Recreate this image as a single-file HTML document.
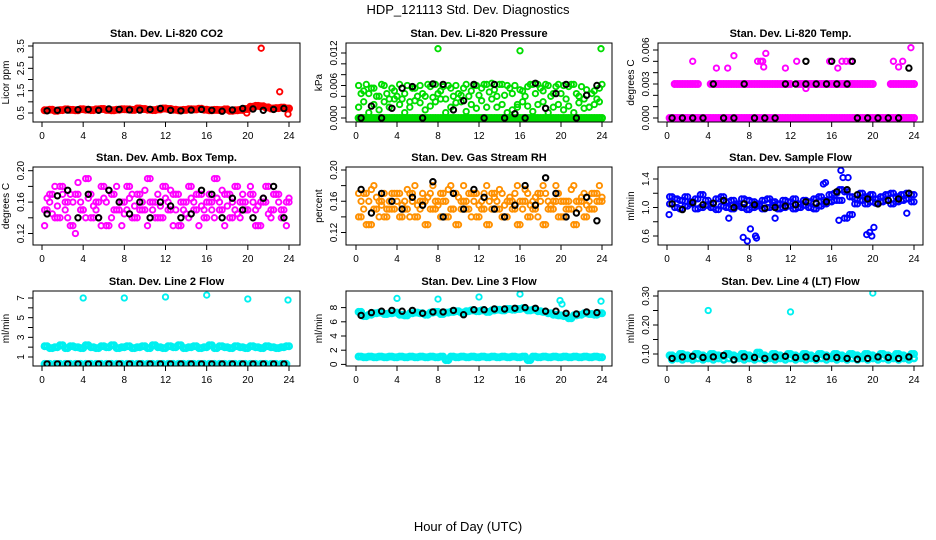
<!DOCTYPE html>
<html><head><meta charset="utf-8"><style>
body{margin:0;background:#fff;}
svg{display:block;font-family:"Liberation Sans",Arial,sans-serif;}
</style></head><body>
<svg id="chart" width="936" height="540" viewBox="0 0 936 540">
<text x="468" y="14" text-anchor="middle" font-size="13">HDP_121113  Std. Dev. Diagnostics</text>
<text x="468" y="531" text-anchor="middle" font-size="13">Hour of Day (UTC)</text>
</svg>
<script>
// ---- data ----
const H48 = [0.25,0.75,1.25,1.75,2.25,2.75,3.25,3.75,4.25,4.75,5.25,5.75,6.25,6.75,7.25,7.75,8.25,8.75,9.25,9.75,10.25,10.75,11.25,11.75,12.25,12.75,13.25,13.75,14.25,14.75,15.25,15.75,16.25,16.75,17.25,17.75,18.25,18.75,19.25,19.75,20.25,20.75,21.25,21.75,22.25,22.75,23.25,23.75];
const H48B = [0.5,1.0,1.5,2.0,2.5,3.0,3.5,4.0,4.5,5.0,5.5,6.0,6.5,7.0,7.5,8.0,8.5,9.0,9.5,10.0,10.5,11.0,11.5,12.0,12.5,13.0,13.5,14.0,14.5,15.0,15.5,16.0,16.5,17.0,17.5,18.0,18.5,19.0,19.5,20.0,20.5,21.0,21.5,22.0,22.5,23.0,23.5,24.0];
const H24 = [0.5,1.5,2.5,3.5,4.5,5.5,6.5,7.5,8.5,9.5,10.5,11.5,12.5,13.5,14.5,15.5,16.5,17.5,18.5,19.5,20.5,21.5,22.5,23.5];

// P1 CO2
const co2Red = [0.62,0.65,0.6,0.63,0.66,0.64,0.62,0.67,0.65,0.63,0.66,0.68,0.64,0.62,0.65,0.67,0.66,0.64,0.7,0.68,0.65,0.63,0.66,0.7,0.68,0.65,0.62,0.64,0.67,0.66,0.69,0.65,0.62,0.64,0.63,0.66,0.6,0.62,0.64,0.68,0.78,0.82,0.8,0.75,0.7,0.72,0.74,0.7];
const co2OutX = [21.3,23.1,23.9,19.9];
const co2OutY = [3.4,1.45,0.45,0.5];
const co2Black = [0.6,0.62,0.63,0.65,0.66,0.62,0.68,0.66,0.64,0.63,0.66,0.7,0.62,0.6,0.63,0.66,0.62,0.58,0.64,0.7,0.68,0.62,0.66,0.7];

// P2 pressure
const presA = [0.006,0.005,0.0045,0.0055,0.004,0.006,0.0035,0.005,0.0062,0.0045,0.003,0.0055,0.006,0.004,0.0058,0.0062,0.005,0.0035,0.0055,0.006,0.0042,0.0062,0.005,0.006,0.0055,0.0062,0.0064,0.004,0.0062,0.006,0.0045,0.0025,0.005,0.0058,0.0062,0.0062,0.005,0.006,0.0045,0.0062,0.006,0.0058,0.0062,0.004,0.0035,0.002,0.005,0.0055];
const presB = [0.002,0.003,0.001,0.0025,0.0015,0.003,0.002,0.0035,0.0025,0.001,0.002,0.0032,0.0028,0.0015,0.0022,0.003,0.0035,0.001,0.002,0.0028,0.003,0.0012,0.0025,0.0018,0.0032,0.002,0.0035,0.002,0.0025,0.001,0.0015,0.002,0.003,0.0022,0.0012,0.0025,0.003,0.001,0.002,0.0025,0.0015,0.0022,0.001,0.0028,0.0018,0.002,0.0025,0.003];
const presC = [0.0045,0.0062,0.0055,0.004,0.0062,0.0045,0.0055,0.004,0.0035,0.006,0.0055,0.004,0.0045,0.0062,0.0038,0.0045,0.0058,0.006,0.004,0.0045,0.0055,0.004,0.006,0.0042,0.0062,0.0048,0.0052,0.0062,0.0042,0.0055,0.006,0.0052,0.004,0.0062,0.0045,0.0055,0.0062,0.004,0.0058,0.0045,0.0035,0.0062,0.0045,0.0058,0.0052,0.0045,0.0035,0.0062];
const presZero = [0,0,0,0,0,0,0,0,0,0,0,0,0,0,0,0,0,0,0,0,0,0,0,0,0,0,0,0,0,0,0,0,0,0,0,0,0,0,0,0,0,0,0,0,0,0,0,0];
const presOutX = [8,16,23.9];
const presOutY = [0.0128,0.0124,0.0128];
const presBlack = [0,0.0022,0,0.0018,0.0055,0.0058,0,0.0063,0.0062,0.0015,0.0032,0.0062,0,0.0062,0,0.0008,0,0.0064,0.0018,0.0045,0.0062,0,0.0042,0.006];

// P3 Li-820 temp
const tempZero = [0,0,0,0,0,0,0,0,0,0,0,0,0,0,0,0,0,0,0,0,0,0,0,0,0,0,0,0,0,0,0,0,0,0,0,0,0,0,0,0,0,0,0,0,0,0,0,0];
const tempBand = [null,0.003,0.003,0.003,0.003,0.003,null,null,0.003,0.003,0.003,0.003,0.003,0.003,0.003,0.003,0.003,0.003,0.003,0.003,0.003,0.003,0.003,0.003,null,0.003,0.003,0.003,0.003,0.003,0.003,0.003,0.003,0.003,0.003,0.003,0.003,0.003,0.003,0.003,null,null,null,0.003,0.003,0.003,0.003,0.003];
const tempOutX = [2.5,4.8,5.9,6.5,8.8,9.1,9.3,9.4,9.6,11.5,12.6,13.5,15.8,16.6,17,17.4,17.8,22,22.5,22.9,23.7];
const tempOutY = [0.005,0.0044,0.0044,0.0055,0.005,0.005,0.005,0.0045,0.0057,0.0044,0.005,0.0026,0.005,0.0044,0.005,0.005,0.005,0.005,0.0045,0.005,0.0062];
const tempBlack = [0,0,0,0,0.003,0,0,0.003,0,0,0,0.003,0.003,0.003,0.003,0.003,0.003,0.003,0,0,0,0,0,0.0044];
const tempBlackX = [13.5,16,18];
const tempBlackY = [0.005,0.005,0.005];

// P4 amb box temp
const ambA = [0.15,0.17,0.14,0.18,0.16,0.13,0.17,0.15,0.19,0.14,0.16,0.18,0.13,0.17,0.15,0.16,0.18,0.14,0.17,0.15,0.19,0.16,0.14,0.18,0.15,0.17,0.13,0.16,0.18,0.15,0.17,0.14,0.16,0.19,0.15,0.17,0.14,0.18,0.16,0.15,0.17,0.13,0.16,0.18,0.15,0.17,0.14,0.16];
const ambB = [0.13,0.16,0.18,0.14,0.15,0.17,0.12,0.16,0.14,0.17,0.15,0.13,0.16,0.14,0.18,0.13,0.15,0.17,0.14,0.16,0.13,0.15,0.17,0.14,0.16,0.13,0.17,0.15,0.14,0.16,0.13,0.15,0.17,0.14,0.16,0.13,0.17,0.15,0.14,0.16,0.18,0.15,0.13,0.16,0.14,0.17,0.15,0.13];
const ambC = [0.165,0.145,0.155,0.17,0.14,0.16,0.185,0.15,0.165,0.155,0.14,0.165,0.175,0.15,0.16,0.145,0.165,0.155,0.15,0.175,0.16,0.14,0.155,0.165,0.175,0.15,0.16,0.145,0.165,0.17,0.155,0.16,0.15,0.165,0.175,0.155,0.16,0.145,0.17,0.15,0.16,0.155,0.165,0.145,0.17,0.16,0.15,0.165];
const ambBlack = [0.145,0.168,0.175,0.14,0.17,0.14,0.175,0.16,0.145,0.16,0.14,0.16,0.155,0.14,0.145,0.175,0.17,0.14,0.165,0.15,0.14,0.165,0.18,0.14];

// P5 gas stream RH
const rhA = [0.17,0.15,0.16,0.18,0.14,0.17,0.16,0.15,0.17,0.16,0.14,0.18,0.15,0.16,0.17,0.15,0.14,0.16,0.18,0.17,0.15,0.16,0.14,0.17,0.16,0.18,0.15,0.16,0.17,0.14,0.16,0.18,0.15,0.17,0.16,0.14,0.18,0.16,0.15,0.17,0.14,0.16,0.18,0.15,0.17,0.16,0.15,0.18];
const rhB = [0.14,0.17,0.13,0.15,0.16,0.14,0.15,0.17,0.14,0.15,0.17,0.14,0.16,0.13,0.15,0.16,0.17,0.14,0.15,0.13,0.16,0.15,0.17,0.14,0.15,0.13,0.17,0.15,0.14,0.16,0.15,0.13,0.16,0.14,0.15,0.17,0.13,0.15,0.16,0.14,0.16,0.15,0.13,0.16,0.14,0.15,0.17,0.16];
const rhC = [0.16,0.13,0.175,0.165,0.155,0.15,0.17,0.16,0.155,0.175,0.16,0.155,0.17,0.165,0.18,0.155,0.16,0.175,0.15,0.165,0.18,0.17,0.16,0.155,0.17,0.16,0.165,0.175,0.155,0.165,0.17,0.16,0.175,0.155,0.165,0.16,0.17,0.155,0.18,0.16,0.15,0.175,0.16,0.165,0.155,0.17,0.16,0.165];
const rhBlack = [0.175,0.145,0.17,0.16,0.15,0.165,0.155,0.185,0.14,0.17,0.15,0.175,0.165,0.15,0.14,0.155,0.18,0.155,0.19,0.17,0.14,0.145,0.165,0.135];

// P6 sample flow
const sfA = [1.15,1.12,1.1,1.15,1.08,1.12,1.18,1.1,1.05,1.12,1.15,1.08,1.1,1.05,1.12,1.1,1.08,1.05,1.1,1.12,1.08,1.05,1.1,1.08,1.12,1.05,1.1,1.08,1.12,1.15,1.1,1.18,1.2,1.25,1.22,1.15,1.12,1.2,1.15,1.18,1.12,1.15,1.18,1.2,1.15,1.18,1.2,1.18];
const sfB = [1.05,1.0,0.98,1.02,1.05,0.98,1.0,1.03,1.0,0.97,1.02,1.0,0.98,1.02,1.0,0.97,1.0,1.02,0.98,1.0,1.03,0.98,1.0,1.02,0.98,1.0,1.03,1.0,0.98,1.02,1.05,1.08,1.1,1.1,0.85,0.9,1.05,1.1,1.05,1.08,1.06,1.08,1.1,1.05,1.08,1.1,1.12,1.08];
const sfOutX = [7.4,7.8,8.1,8.6,8.7,15.2,15.4,16.9,17.1,17.6,19.4,19.7,19.9,20.1,0.2,6.0,10.5,23.3,16.7];
const sfOutY = [0.58,0.53,0.7,0.6,0.57,1.33,1.35,1.52,1.42,1.42,0.62,0.65,0.6,0.72,0.9,0.85,0.85,0.92,0.82];
const sfBlack = [1.05,0.97,1.07,1.04,1.06,1.1,1.0,1.05,1.04,0.99,1.0,1.02,1.04,1.08,1.06,1.08,1.22,1.25,1.18,1.12,1.05,1.1,1.12,1.2];

// P7 line 2 flow
const l2Band = [2.1,1.9,2.0,2.2,1.9,2.1,2.0,1.9,2.2,2.0,1.9,2.1,2.0,2.2,1.9,2.0,2.1,1.9,2.0,2.1,1.9,2.2,2.0,1.9,2.1,2.0,2.2,1.9,2.0,2.1,1.9,2.0,2.2,1.9,2.1,2.0,1.9,2.1,2.0,1.9,2.1,2.0,1.9,2.1,2.0,1.9,2.0,2.1];
const l2Low = [0.3,0.3,0.3,0.3,0.3,0.3,0.3,0.3,0.3,0.3,0.3,0.3,0.3,0.3,0.3,0.3,0.3,0.3,0.3,0.3,0.3,0.3,0.3,0.3,0.3,0.3,0.3,0.3,0.3,0.3,0.3,0.3,0.3,0.3,0.3,0.3,0.3,0.3,0.3,0.3,0.3,0.3,0.3,0.3,0.3,0.3,0.3,0.3];
const l2OutX = [4,8,12,16,20,23.9];
const l2OutY = [7.0,7.0,7.1,7.3,6.9,6.8];
const l2Black = [0.3,0.3,0.3,0.3,0.3,0.3,0.3,0.3,0.3,0.3,0.3,0.3,0.3,0.3,0.3,0.3,0.3,0.3,0.3,0.3,0.3,0.3,0.3,0.3];

// P8 line 3 flow
const l3High = [7.4,6.8,7.0,7.2,7.3,7.1,7.2,7.3,7.0,6.9,7.2,7.3,7.2,7.0,7.3,7.4,7.1,7.3,7.4,7.5,7.3,7.5,7.6,7.5,7.6,7.4,7.6,7.7,7.6,7.8,7.7,7.8,7.9,7.6,7.7,7.5,7.4,7.2,7.0,6.9,6.8,6.5,6.9,7.0,7.2,7.1,7.0,7.2];
const l3Low = [1.1,1.0,1.1,1.0,1.1,1.0,1.1,1.0,1.1,1.0,1.1,1.0,1.1,1.0,1.1,1.0,1.1,0.6,1.1,1.0,1.1,1.0,1.1,1.0,1.1,1.0,1.1,1.0,1.1,1.0,1.1,1.0,1.1,0.6,1.1,1.0,1.1,1.0,1.1,1.0,1.1,1.0,1.1,1.0,1.1,1.0,1.1,1.0];
const l3OutX = [4,8,12,16,19.9,20.1,23.9];
const l3OutY = [9.3,9.2,9.5,9.9,9.0,8.5,8.9];
const l3Black = [6.9,7.3,7.5,7.6,7.5,7.6,7.2,7.4,7.4,7.6,7.0,7.7,7.7,7.8,7.8,7.9,8.0,7.9,7.5,7.5,7.2,7.1,7.4,7.3];

// P9 line 4 flow
const l4A = [0.095,0.09,0.1,0.095,0.09,0.1,0.095,0.09,0.1,0.095,0.092,0.1,0.095,0.09,0.1,0.095,0.09,0.105,0.095,0.09,0.1,0.095,0.09,0.1,0.095,0.09,0.1,0.095,0.09,0.1,0.095,0.09,0.1,0.095,0.09,0.1,0.095,0.09,0.1,0.095,0.09,0.1,0.095,0.09,0.1,0.095,0.09,0.1];
const l4B = [0.08,0.085,0.08,0.085,0.08,0.085,0.08,0.085,0.08,0.085,0.08,0.085,0.08,0.085,0.08,0.085,0.08,0.085,0.08,0.085,0.08,0.085,0.08,0.085,0.08,0.085,0.08,0.085,0.08,0.085,0.08,0.085,0.08,0.085,0.08,0.085,0.08,0.085,0.08,0.085,0.08,0.085,0.08,0.085,0.08,0.085,0.08,0.085];
const l4OutX = [4,12,20];
const l4OutY = [0.25,0.245,0.31];
const l4Black = [0.085,0.09,0.092,0.088,0.09,0.095,0.08,0.09,0.088,0.085,0.09,0.092,0.088,0.09,0.085,0.09,0.088,0.085,0.082,0.085,0.09,0.088,0.085,0.09];

// ---- drawing ----
const svg = document.getElementById('chart');
const NS = 'http://www.w3.org/2000/svg';
function mk(tag, attrs, parent){const e=document.createElementNS(NS,tag);for(const k in attrs)e.setAttribute(k,attrs[k]);(parent||svg).appendChild(e);return e;}

const COLS=[{b0:33,b1:300,x0:42,x24:289},{b0:346,b1:612,x0:356,x24:602},{b0:658,b1:923,x0:667,x24:914}];
const ROWS=[{t:43,b:122},{t:167,b:245},{t:291,b:366}];

function panel(id,col,row,title,ylab,v1,p1,v2,p2,ticks,labels,series){
  const C=COLS[col],R=ROWS[row];
  const g=mk('g',{});
  
  
  const xs=h=>C.x0+(C.x24-C.x0)*h/24;
  const ys=v=>p1+(p2-p1)*(v-v1)/(v2-v1);
  const cp=mk('clipPath',{id:'cp'+id},g);
  mk('rect',{x:C.b0,y:R.t,width:C.b1-C.b0,height:R.b-R.t},cp);
  const pts=mk('g',{'clip-path':'url(#cp'+id+')'},g);
  series.forEach(s=>{
    const sg=mk('g',{},pts);
    
    
    s.y.forEach((v,i)=>{
      if(v===null||v===undefined)return;
      const c=mk('circle',{cx:xs(s.x[i]).toFixed(1),cy:ys(v).toFixed(1),r:s.r||2.7,fill:'none',stroke:s.c,'stroke-width':s.w||1.9},sg);
      
      
    });
  });
  const box=mk('rect',{x:C.b0,y:R.t,width:C.b1-C.b0,height:R.b-R.t,fill:'none',stroke:'#000','stroke-width':1},g);
  
  
  const t=mk('text',{x:(C.b0+C.b1)/2,y:R.t-6,'text-anchor':'middle','font-size':11,'font-weight':'bold'},g);
  t.textContent=title;
  
  
  const xa=mk('g',{},g);
  
  
  mk('line',{x1:C.x0,x2:C.x24,y1:R.b,y2:R.b,stroke:'#000'},xa);
  for(let h=0;h<=24;h+=4){
    mk('line',{x1:xs(h),x2:xs(h),y1:R.b,y2:R.b+5,stroke:'#000'},xa);
    const l=mk('text',{x:xs(h),y:R.b+17,'text-anchor':'middle','font-size':10},xa);
    l.textContent=h;
  }
  const ya=mk('g',{},g);
  
  
  mk('line',{x1:C.b0,x2:C.b0,y1:ys(ticks[0]),y2:ys(ticks[ticks.length-1]),stroke:'#000'},ya);
  ticks.forEach(v=>mk('line',{x1:C.b0-5,x2:C.b0,y1:ys(v),y2:ys(v),stroke:'#000'},ya));
  labels.forEach(lb=>{
    const yy=ys(parseFloat(lb));
    const l=mk('text',{x:C.b0-9,y:yy,'text-anchor':'middle','font-size':10,transform:'rotate(-90 '+(C.b0-9)+' '+yy+')'},ya);
    l.textContent=lb;
  });
  const yt=mk('text',{x:C.b0-24,y:(R.t+R.b)/2,'text-anchor':'middle','font-size':10,transform:'rotate(-90 '+(C.b0-24)+' '+(R.t+R.b)/2+')'},g);
  yt.textContent=ylab;
  
  
}
const RED='#ff0000',GRN='#00dd00',MAG='#ff00ff',ORG='#ff9000',BLU='#0000ff',CYN='#00f0f0',BLK='#000';
panel('co2',0,0,'Stan. Dev. Li-820 CO2','Licor ppm',0.5,113,3.5,46,[0.5,1,1.5,2,2.5,3,3.5],['0.5','1.5','2.5','3.5'],[
 {name:'red',x:H48,y:co2Red,c:RED,w:2.6},{name:'red-2',x:H48B,y:co2Red,c:RED,w:2.6},{name:'red-outliers',x:co2OutX,y:co2OutY,c:RED},{name:'black',x:H24,y:co2Black,c:BLK,w:2}]);
panel('pressure',1,0,'Stan. Dev. Li-820 Pressure','kPa',0,118,0.012,53,[0,0.002,0.004,0.006,0.008,0.01,0.012],['0.000','0.006','0.012'],[
 {name:'green-zero',x:H48,y:presZero,c:GRN,w:2.6},{name:'green-zero-2',x:H48B,y:presZero,c:GRN,w:2.6},{name:'green-a',x:H48,y:presA,c:GRN},{name:'green-b',x:H48,y:presB,c:GRN},{name:'green-c',x:H48B,y:presC,c:GRN},{name:'green-outliers',x:presOutX,y:presOutY,c:GRN},{name:'black',x:H24,y:presBlack,c:BLK,w:2}]);
panel('temp',2,0,'Stan. Dev. Li-820 Temp.','degrees C',0,118,0.006,50,[0,0.001,0.002,0.003,0.004,0.005,0.006],['0.000','0.003','0.006'],[
 {name:'magenta-zero',x:H48,y:tempZero,c:MAG,w:2.6},{name:'magenta-zero-2',x:H48B,y:tempZero,c:MAG,w:2.6},{name:'magenta-band',x:H48,y:tempBand,c:MAG,w:2.6},{name:'magenta-band-2',x:H48B,y:tempBand,c:MAG,w:2.6},{name:'magenta-outliers',x:tempOutX,y:tempOutY,c:MAG},{name:'black',x:H24,y:tempBlack,c:BLK,w:2},{name:'black-extra',x:tempBlackX,y:tempBlackY,c:BLK,w:2}]);
panel('ambtemp',0,1,'Stan. Dev. Amb. Box Temp.','degrees C',0.12,233.5,0.20,170.7,[0.12,0.14,0.16,0.18,0.20],['0.12','0.16','0.20'],[
 {name:'magenta-a',x:H48,y:ambA,c:MAG},{name:'magenta-b',x:H48,y:ambB,c:MAG},{name:'magenta-c',x:H48B,y:ambC,c:MAG},{name:'magenta-d',x:H48B,y:ambA,c:MAG},{name:'black',x:H24,y:ambBlack,c:BLK,w:2}]);
panel('rh',1,1,'Stan. Dev. Gas Stream RH','percent',0.12,232.5,0.20,170,[0.12,0.14,0.16,0.18,0.20],['0.12','0.16','0.20'],[
 {name:'orange-a',x:H48,y:rhA,c:ORG},{name:'orange-b',x:H48,y:rhB,c:ORG},{name:'orange-c',x:H48B,y:rhC,c:ORG},{name:'orange-d',x:H48B,y:rhB,c:ORG},{name:'black',x:H24,y:rhBlack,c:BLK,w:2}]);
panel('sampleflow',2,1,'Stan. Dev. Sample Flow','ml/min',0.6,236,1.4,179,[0.6,0.8,1.0,1.2,1.4],['0.6','1.0','1.4'],[
 {name:'blue-a',x:H48,y:sfA,c:BLU},{name:'blue-b',x:H48,y:sfB,c:BLU},{name:'blue-c',x:H48B,y:sfA,c:BLU},{name:'blue-d',x:H48B,y:sfB,c:BLU},{name:'blue-outliers',x:sfOutX,y:sfOutY,c:BLU},{name:'black',x:H24,y:sfBlack,c:BLK,w:2}]);
panel('line2',0,2,'Stan. Dev. Line 2 Flow','ml/min',1,357,7,298,[1,2,3,4,5,6,7],['1','3','5','7'],[
 {name:'cyan-band',x:H48,y:l2Band,c:CYN,w:2.6},{name:'cyan-band-2',x:H48B,y:l2Band,c:CYN,w:2.6},{name:'cyan-low',x:H48,y:l2Low,c:CYN,w:2.6},{name:'cyan-outliers',x:l2OutX,y:l2OutY,c:CYN},{name:'black',x:H24,y:l2Black,c:BLK,w:2}]);
panel('line3',1,2,'Stan. Dev. Line 3 Flow','ml/min',0,364.4,8,307.6,[0,2,4,6,8],['0','2','4','6','8'],[
 {name:'cyan-high',x:H48,y:l3High,c:CYN,w:2.6},{name:'cyan-high-2',x:H48B,y:l3High,c:CYN,w:2.6},{name:'cyan-low',x:H48,y:l3Low,c:CYN,w:2.6},{name:'cyan-low-2',x:H48B,y:l3Low,c:CYN,w:2.6},{name:'cyan-outliers',x:l3OutX,y:l3OutY,c:CYN},{name:'black',x:H24,y:l3Black,c:BLK,w:2}]);
panel('line4',2,2,'Stan. Dev. Line 4 (LT) Flow','ml/min',0.10,354,0.30,296,[0.10,0.15,0.20,0.25,0.30],['0.10','0.20','0.30'],[
 {name:'cyan-a',x:H48,y:l4A,c:CYN,w:2.6},{name:'cyan-b',x:H48B,y:l4B,c:CYN,w:2.6},{name:'cyan-c',x:H48B,y:l4A,c:CYN,w:2.6},{name:'cyan-outliers',x:l4OutX,y:l4OutY,c:CYN},{name:'black',x:H24,y:l4Black,c:BLK,w:2}]);
</script>
</body></html>
